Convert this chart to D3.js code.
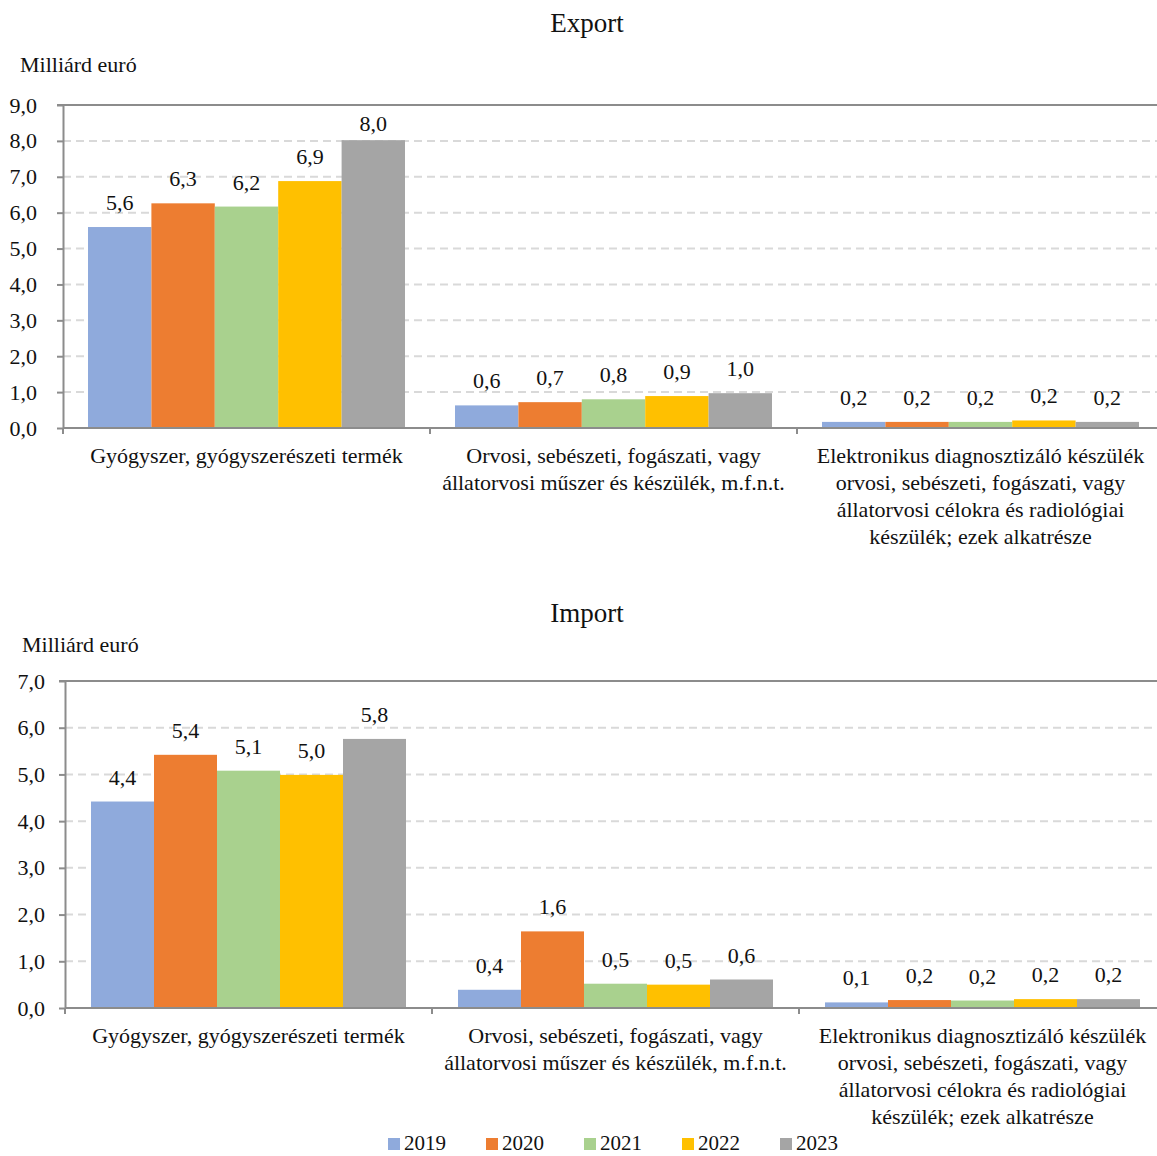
<!DOCTYPE html>
<html><head><meta charset="utf-8">
<script src="https://cdn.jsdelivr.net/npm/d3@7"></script>
<style>
html,body{margin:0;padding:0;background:#fff;}
svg{display:block;font-family:"Liberation Serif","DejaVu Serif",serif;}
</style></head>
<body>
<svg id="chart" width="1157" height="1156"></svg>
<script>
const years = ["2019", "2020", "2021", "2022", "2023"];
const categories = [
  ["Gyógyszer, gyógyszerészeti termék"],
  ["Orvosi, sebészeti, fogászati, vagy", "állatorvosi műszer és készülék, m.f.n.t."],
  ["Elektronikus diagnosztizáló készülék", "orvosi, sebészeti, fogászati, vagy", "állatorvosi célokra és radiológiai", "készülék; ezek alkatrésze"]
];
// values per year, one entry per category
const export2019 = [5.60, 0.63, 0.17];
const export2020 = [6.26, 0.72, 0.17];
const export2021 = [6.17, 0.80, 0.17];
const export2022 = [6.88, 0.89, 0.21];
const export2023 = [8.02, 0.97, 0.17];
const import2019 = [4.42, 0.39, 0.12];
const import2020 = [5.42, 1.64, 0.17];
const import2021 = [5.08, 0.52, 0.16];
const import2022 = [4.99, 0.50, 0.19];
const import2023 = [5.76, 0.61, 0.19];
const exportTicks = [0, 1, 2, 3, 4, 5, 6, 7, 8, 9];
const importTicks = [0, 1, 2, 3, 4, 5, 6, 7];
const colors = ["#8faadc", "#ed7d31", "#a9d18e", "#ffc000", "#a5a5a5"];

const exportSeries = [export2019, export2020, export2021, export2022, export2023];
const importSeries = [import2019, import2020, import2021, import2022, import2023];

const svg = d3.select("#chart");
const fmt = v => d3.format(".1f")(v).replace(".", ",");
const axisColor = "#8c8c8c";
const FS = 22;

function drawChart(cfg) {
  const g = svg.append("g");
  const x = d3.scaleBand().domain(d3.range(categories.length)).range([cfg.x0, cfg.x1]).padding(0);
  const bw = x.bandwidth();
  const xi = d3.scaleBand().domain(years).range([cfg.pad, bw - cfg.pad]).padding(0);
  const y = d3.scaleLinear().domain([0, d3.max(cfg.ticks)]).range([cfg.yb, cfg.yt]);

  // title
  g.append("text").attr("x", 587).attr("y", cfg.titleY).attr("text-anchor", "middle")
    .attr("font-size", 27).attr("fill", "#111").text(cfg.title);
  g.append("text").attr("x", cfg.unitX).attr("y", cfg.unitY)
    .attr("font-size", FS).attr("fill", "#111").text("Milliárd euró");

  // gridlines
  g.selectAll(".grid").data(cfg.ticks.filter(t => t > 0 && t < d3.max(cfg.ticks))).enter()
    .append("line").attr("x1", cfg.x0).attr("x2", 1157)
    .attr("y1", d => y(d)).attr("y2", d => y(d))
    .attr("stroke", "#d9d9d9").attr("stroke-width", 2).attr("stroke-dasharray", "8,5");
  // top border
  g.append("line").attr("x1", cfg.x0 - 6).attr("x2", 1157)
    .attr("y1", y(d3.max(cfg.ticks))).attr("y2", y(d3.max(cfg.ticks)))
    .attr("stroke", axisColor).attr("stroke-width", 2);

  // bars
  const groups = g.selectAll(".grp").data(categories).enter().append("g")
    .attr("transform", (d, i) => `translate(${x(i)},0)`);
  years.forEach((yr, k) => {
    groups.append("rect")
      .attr("x", xi(yr)).attr("width", xi.bandwidth())
      .attr("y", (d, i) => y(cfg.series[k][i]))
      .attr("height", (d, i) => y(0) - y(cfg.series[k][i]))
      .attr("fill", colors[k]);
    groups.append("text")
      .attr("x", xi(yr) + xi.bandwidth() / 2)
      .attr("y", (d, i) => Math.max(y(cfg.series[k][i]) - 17, cfg.yt + 26))
      .attr("text-anchor", "middle").attr("font-size", FS).attr("fill", "#111")
      .text((d, i) => fmt(cfg.series[k][i]));
  });

  // y axis
  const ay = g.append("g").attr("transform", `translate(${cfg.x0},0)`)
    .call(d3.axisLeft(y).tickValues(cfg.ticks).tickFormat(fmt).tickSize(6).tickSizeOuter(0).tickPadding(cfg.tickPad));
  ay.select(".domain").attr("stroke", axisColor).attr("stroke-width", 2);
  ay.selectAll(".tick line").attr("stroke", axisColor).attr("stroke-width", 2);
  ay.selectAll(".tick text").attr("font-size", FS).attr("fill", "#111")
    .attr("font-family", "Liberation Serif, serif");

  // x axis
  g.append("line").attr("x1", cfg.x0).attr("x2", 1157).attr("y1", y(0)).attr("y2", y(0))
    .attr("stroke", axisColor).attr("stroke-width", 2);
  g.selectAll(".xt").data(d3.range(categories.length)).enter().append("line")
    .attr("x1", d => x(d)).attr("x2", d => x(d))
    .attr("y1", y(0)).attr("y2", y(0) + 6)
    .attr("stroke", axisColor).attr("stroke-width", 2);

  // category labels
  categories.forEach((lines, i) => {
    const t = g.append("text").attr("text-anchor", "middle").attr("font-size", FS).attr("fill", "#111");
    lines.forEach((ln, j) => {
      t.append("tspan").attr("x", x(i) + bw / 2).attr("y", y(0) + 35 + j * 27).text(ln);
    });
  });
}

drawChart({title: "Export", titleY: 32, unitX: 20, unitY: 72, series: exportSeries, ticks: exportTicks,
  x0: 63, x1: 1164, yb: 428, yt: 105, pad: 25, tickPad: 20});
drawChart({title: "Import", titleY: 622, unitX: 22, unitY: 652, series: importSeries, ticks: importTicks,
  x0: 65, x1: 1166, yb: 1008, yt: 681, pad: 26, tickPad: 14});

// legend
const legend = svg.append("g");
years.forEach((yr, k) => {
  const lx = 388 + k * 98;
  legend.append("rect").attr("x", lx).attr("y", 1138).attr("width", 12).attr("height", 12).attr("fill", colors[k]);
  legend.append("text").attr("x", lx + 16).attr("y", 1150).attr("font-size", 21).attr("fill", "#111").text(yr);
});
</script>
</body></html>
